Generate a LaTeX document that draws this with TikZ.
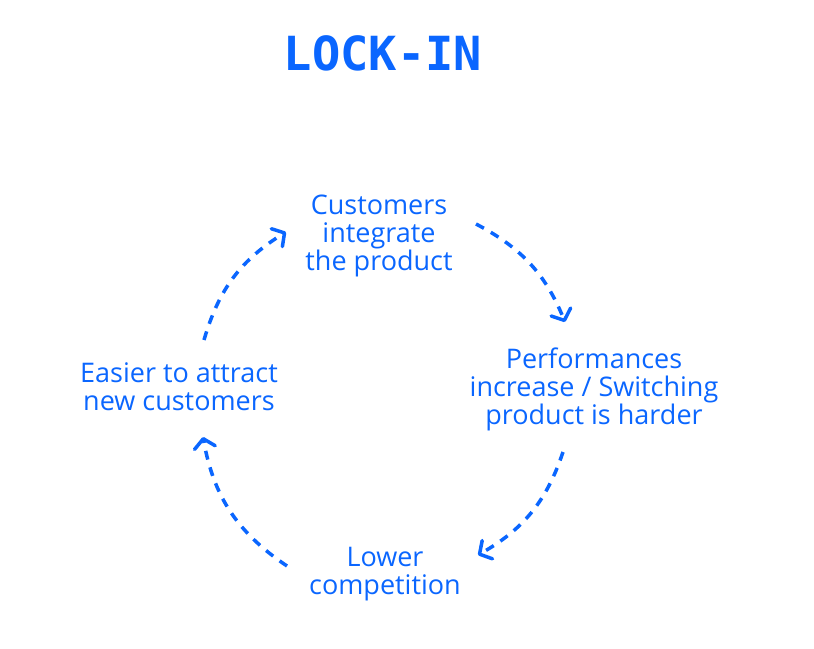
\documentclass[tikz,border=0pt]{standalone}
\usepackage{fontspec}
\setmainfont{Open Sans}
\newfontfamily\titlefont{DejaVu Sans Mono}
\usetikzlibrary{arrows.meta}
\definecolor{lockblue}{HTML}{0A66FF}

\begin{document}
\begin{tikzpicture}[x=1pt, y=1pt,
    txt/.style={text=lockblue, align=center, font=\fontsize{27}{28}\selectfont},
    title/.style={text=lockblue, font=\titlefont\bfseries\fontsize{47}{50}\selectfont},
    cyclearrow/.style={draw=lockblue, line width=3.5pt, dash pattern=on 9pt off 8pt,
        -{Straight Barb[length=9pt, width=21pt, line cap=round, line join=round]}}]
    \useasboundingbox (0,0) rectangle (814,648);

    \node[title] (lockin) at (383,595) {LOCK-IN};

    \node[txt] (integrate) at (379,412) {Customers\\integrate\\the product};
    \node[txt] (harder) at (594,259) {Performances\\increase / Switching\\product is harder};
    \node[txt] (lower) at (385,74) {Lower\\competition};
    \node[txt] (attract) at (179,261) {Easier to attract\\new customers};

    \coordinate (integrateout) at (476,424);
    \coordinate (harderin) at (565,326);
    \coordinate (harderout) at (563,196);
    \coordinate (lowerin) at (478,93);
    \coordinate (lowerout) at (287,82);
    \coordinate (attractin) at (203,211);
    \coordinate (attractout) at (204,308);
    \coordinate (integratein) at (286,416);

    \draw[cyclearrow] (integrateout) to[bend left=20] (harderin);
    \draw[cyclearrow] (harderout) to[bend left=21] (lowerin);
    \draw[cyclearrow] (lowerout) to[bend left=23] (attractin);
    \draw[cyclearrow] (attractout) to[bend left=21] (integratein);
\end{tikzpicture}
\end{document}
